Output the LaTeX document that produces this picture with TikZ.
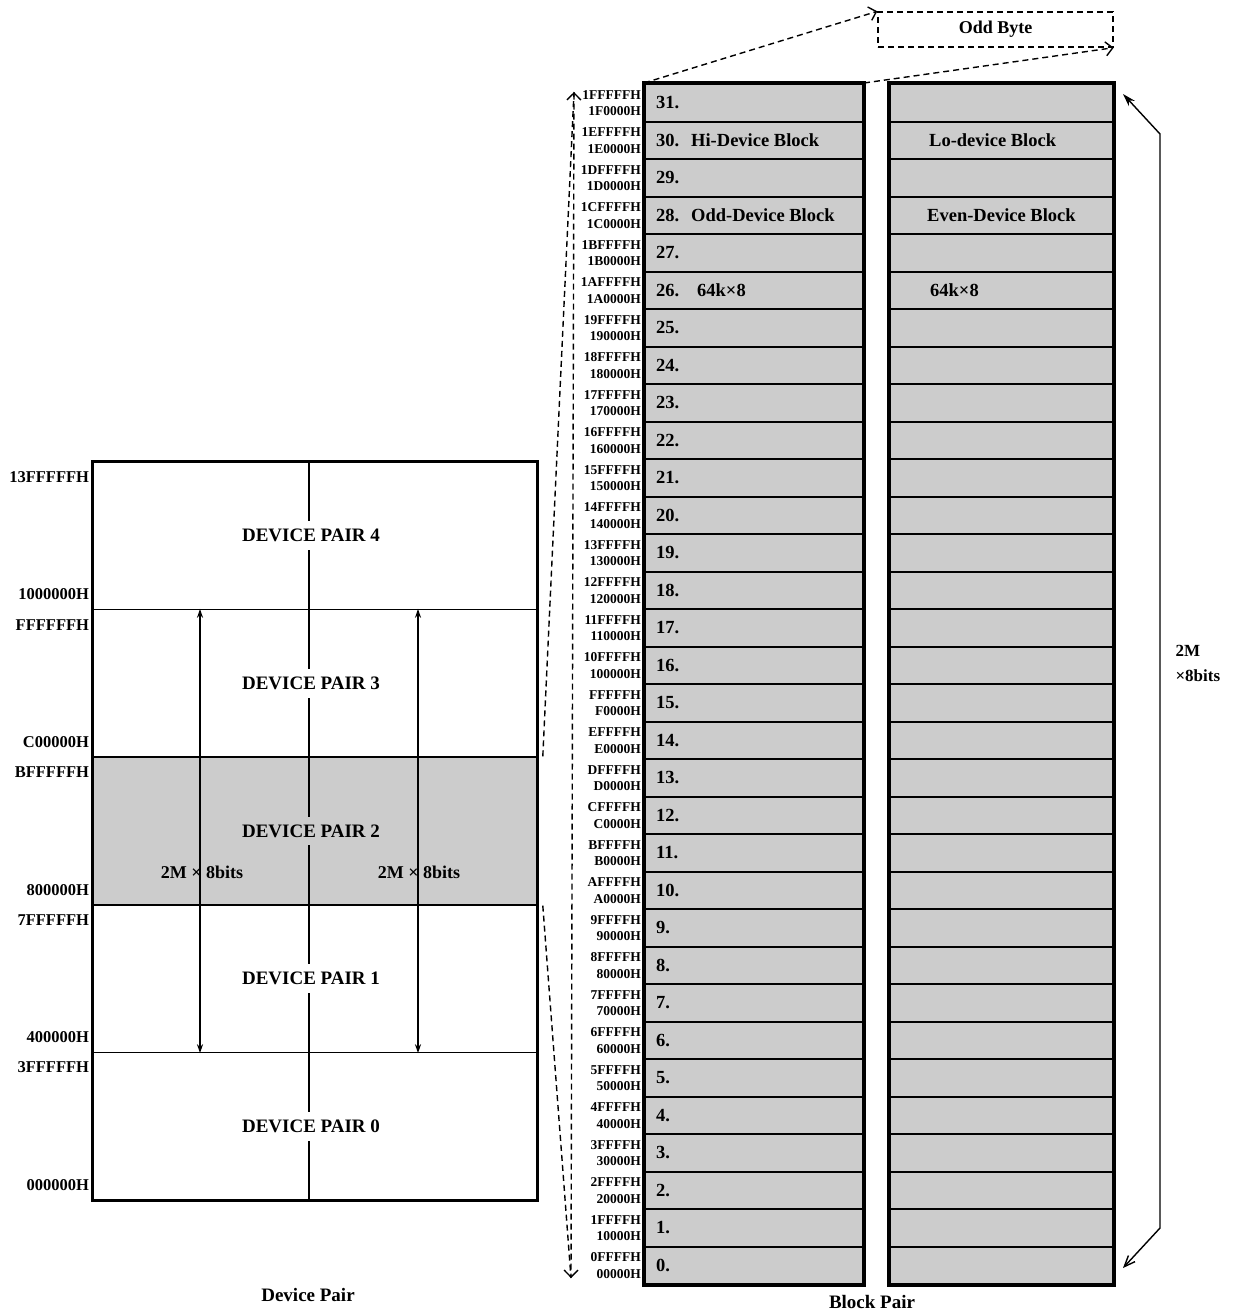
\documentclass[tikz,border=0pt]{standalone}
\usepackage{fontspec}
\setmainfont{Liberation Serif}
\usetikzlibrary{arrows.meta, calc}
\definecolor{shade}{gray}{0.8}
\newcommand{\pxfont}[1]{\fontsize{#1}{#1}\selectfont\bfseries}
\tikzset{
    pairrow/.style={rectangle, draw, line width=1.6pt, minimum width=444pt, minimum height=147.6pt, inner sep=0pt},
    pairlabel/.style={fill=white, inner xsep=3pt, inner ysep=8pt, font=\pxfont{19}},
    addr/.style={anchor=east, inner sep=1pt, font=\pxfont{16.5}},
    blockrow/.style={rectangle, draw, fill=shade, line width=2pt, minimum height=37.5pt, inner sep=0pt},
    rowtext/.style={anchor=west, inner sep=0pt, font=\pxfont{18.5}},
    smalladdr/.style={anchor=east, inner sep=0pt, font=\pxfont{13.5}},
    bits/.style={font=\pxfont{18}},
    caption/.style={font=\pxfont{19}},
    sizearrow/.style={line width=1.3pt, {Stealth[length=9pt,width=6pt]}-{Stealth[length=9pt,width=6pt]}},
    zoomline/.style={dash pattern=on 6pt off 4pt, line width=1.4pt},
}

\begin{document}
\begin{tikzpicture}[x=1pt, y=-1pt]

    \useasboundingbox (0,0) rectangle (1248,1312);

    % Device pair map
    \foreach \i in {0,...,4} {
        \pgfmathsetmacro{\yc}{462 + (4-\i)*147.6 + 73.8}
        \node[pairrow] (dp\i) at (315,\yc) {};
    }
    \node[pairrow, fill=shade] (dp2) at (315,462+2*147.6+73.8) {};

    \draw[line width=1.3pt] ([xshift=-6pt]dp4.north) -- ([xshift=-6pt]dp0.south);

    \foreach \i in {0,1,3,4} {
        \node[pairlabel] (dpl\i) at ([xshift=-4pt]dp\i.center) {DEVICE PAIR \i};
    }
    \node[pairlabel, fill=shade] (dpl2) at ([xshift=-4pt]dp2.center) {DEVICE PAIR 2};

    % address labels
    \foreach \i/\hi/\lo in {4/13FFFFFH/1000000H, 3/FFFFFFH/C00000H, 2/BFFFFFH/800000H, 1/7FFFFFH/400000H, 0/3FFFFFH/000000H} {
        \node[addr] (hi\i) at ([xshift=-2pt,yshift=-16pt]dp\i.north west) {\hi};
        \node[addr] (lo\i) at ([xshift=-2pt,yshift=16pt]dp\i.south west) {\lo};
    }

    % 2M x 8bits arrows
    \draw[sizearrow] (200,0 |- dp3.north) -- (200,0 |- dp1.south);
    \draw[sizearrow] (418,0 |- dp3.north) -- (418,0 |- dp1.south);
    \node[bits] (bitsl) at (202,872) {2M × 8bits};
    \node[bits] (bitsr) at (419,872) {2M × 8bits};

    \draw[line width=3pt] (dp4.north west) rectangle (dp0.south east);

    \node[caption] (devcap) at (308,1295) {Device Pair};

    % Block pair
    \foreach \h [count=\n from 0] in {0,1,2,3,4,5,6,7,8,9,A,B,C,D,E,F,10,11,12,13,14,15,16,17,18,19,1A,1B,1C,1D,1E,1F} {
        \pgfmathsetmacro{\yc}{84 + (31-\n)*37.5 + 18.75}
        \node[blockrow, minimum width=218pt] (L\n) at (754,\yc) {};
        \node[blockrow, minimum width=223pt] (R\n) at (1001.5,\yc) {};
        \node[rowtext] (num\n) at (656,\yc) {\n.};
        \node[smalladdr] (ahi\n) at (641,\yc-8) {\h FFFFH};
        \node[smalladdr] (alo\n) at (641,\yc+8.5) {\h 0000H};
    }
    \draw[line width=3.5pt] (L31.north west) rectangle (L0.south east);
    \draw[line width=3.5pt] (R31.north west) rectangle (R0.south east);

    \node[rowtext] (hidev) at (691,0 |- L30.center) {Hi-Device Block};
    \node[rowtext] (odddev) at (691,0 |- L28.center) {Odd-Device Block};
    \node[rowtext] (oddsize) at (697,0 |- L26.center) {64k×8};
    \node[rowtext] (lodev) at (929,0 |- R30.center) {Lo-device Block};
    \node[rowtext] (evendev) at (927,0 |- R28.center) {Even-Device Block};
    \node[rowtext] (evensize) at (930,0 |- R26.center) {64k×8};

    % Odd byte
    \node[draw, zoomline, minimum width=235pt, minimum height=35pt, font=\pxfont{18}] (oddbyte) at (995.5,29.5) {Odd Byte};
    \draw[zoomline, -{Straight Barb[length=7pt]}] (L31.north west) -- (oddbyte.north west);
    \draw[zoomline, -{Straight Barb[length=7pt]}] (L31.north east) -- (oddbyte.south east);

    % zoom from device pair 2
    \coordinate (ztop) at (574,92);
    \coordinate (zbot) at (571,1278);
    \draw[zoomline, {Straight Barb[length=7pt]}-{Straight Barb[length=7pt]}] (ztop) -- (zbot);
    \draw[zoomline] ([xshift=5pt]dp2.north east) -- (ztop);
    \draw[zoomline] ([xshift=5pt]dp2.south east) -- (zbot);

    % 2M x 8bits bracket
    \coordinate (brtop) at (1123,94);
    \coordinate (brtopbend) at (1160,134);
    \coordinate (brbotbend) at (1160,1228);
    \coordinate (brbot) at (1123,1268);
    \draw[line width=1.4pt, {Straight Barb[length=11pt,width=9pt]}-{Stealth[length=13pt,width=8pt]}] (brbot) -- (brbotbend) -- (brtopbend) -- (brtop);
    \node[anchor=west, align=left, font=\pxfont{17}] (totalbits) at (1172,663) {2M\\[8pt]×8bits};

    \node[caption] (blkcap) at (872,1302) {Block Pair};

\end{tikzpicture}
\end{document}
